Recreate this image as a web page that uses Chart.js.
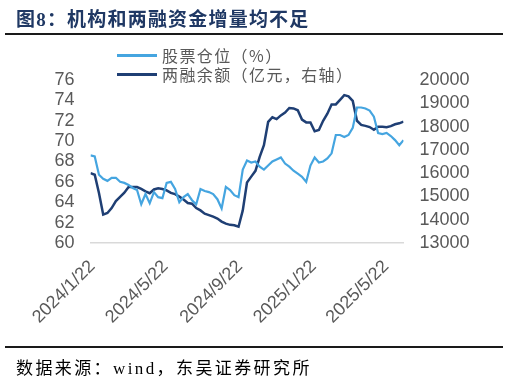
<!DOCTYPE html>
<html>
<head>
<meta charset="utf-8">
<script src="https://cdn.jsdelivr.net/npm/chart.js@4.4.1/dist/chart.umd.min.js"></script>
<style>
  html, body { margin: 0; padding: 0; background: #fff; }
  #wrap { position: relative; width: 509px; height: 381px; overflow: hidden; }
  #c { position: absolute; left: 0; top: 0; }
  .title { position: absolute; left: 16px; top: 4px; font: bold 19px "Liberation Serif", "Noto Sans CJK SC", serif; color: #1F3864; letter-spacing: 1.2px; white-space: nowrap; }
  .rule { position: absolute; left: 5px; width: 498px; height: 2px; background: #1a1a1a; }
  .src { position: absolute; left: 16px; top: 354px; font: 17px "Liberation Serif", "Noto Sans CJK SC", serif; color: #000; letter-spacing: 2.4px; white-space: nowrap; }
  .lg { position: absolute; left: 117px; height: 20px; display: flex; align-items: center; white-space: nowrap; }
  .lg i { display: inline-block; width: 40px; height: 3px; margin-right: 5px; }
  .lg span { font: 16px "Noto Sans CJK SC", sans-serif; color: #595959; letter-spacing: 1.4px; }
</style>
</head>
<body>
<div id="wrap">
  <canvas id="c" width="509" height="381"></canvas>
  <div class="title">图8：机构和两融资金增量均不足</div>
  <div class="rule" style="top:33px"></div>
  <div class="lg" style="top:45px"><i style="background:#45A5E0"></i><span id="lg0"></span></div>
  <div class="lg" style="top:64px"><i style="background:#1F3F74"></i><span id="lg1"></span></div>
  <div class="rule" style="top:346px"></div>
  <div class="src">数据来源：wind，东吴证券研究所</div>
</div>
<script>
// ---- data ----
const seriesNames = ['股票仓位（%）', '两融余额（亿元，右轴）'];
const dates = [
  '2024-01-19','2024-01-26','2024-02-02','2024-02-09','2024-02-16','2024-02-23','2024-03-01','2024-03-08','2024-03-15','2024-03-22',
  '2024-03-29','2024-04-05','2024-04-12','2024-04-19','2024-04-26','2024-05-03','2024-05-10','2024-05-17','2024-05-24','2024-05-31',
  '2024-06-07','2024-06-14','2024-06-21','2024-06-28','2024-07-05','2024-07-12','2024-07-19','2024-07-26','2024-08-02','2024-08-09',
  '2024-08-16','2024-08-23','2024-08-30','2024-09-06','2024-09-13','2024-09-20','2024-09-27','2024-10-04','2024-10-11','2024-10-18',
  '2024-10-25','2024-11-01','2024-11-08','2024-11-15','2024-11-22','2024-11-29','2024-12-06','2024-12-13','2024-12-20','2024-12-27',
  '2025-01-03','2025-01-10','2025-01-17','2025-01-24','2025-01-31','2025-02-07','2025-02-14','2025-02-21','2025-02-28','2025-03-07',
  '2025-03-14','2025-03-21','2025-03-28','2025-04-04','2025-04-11','2025-04-18','2025-04-25','2025-05-02','2025-05-09','2025-05-16',
  '2025-05-23','2025-05-30','2025-06-06','2025-06-13','2025-06-20'
];
const stockPosition = [
  68.6,68.5,66.7,66.3,66.1,66.4,66.4,66.0,65.9,65.7,
  65.4,65.2,63.8,64.8,63.9,65.0,64.5,64.4,65.9,66.0,
  65.3,64.0,64.5,64.8,64.2,63.8,65.3,65.1,65.0,64.8,
  64.3,63.4,65.5,65.2,64.7,64.5,67.2,68.1,67.9,68.0,
  67.5,67.2,67.6,68.0,68.2,68.4,67.8,67.5,67.1,66.8,
  66.5,66.0,67.6,68.4,67.9,68.0,68.3,68.8,70.6,70.6,
  70.4,70.6,71.3,73.3,73.3,73.2,73.0,72.4,70.8,70.7,
  70.8,70.5,70.1,69.6,70.1
];
const marginBalance = [
  16000,15930,15150,14220,14290,14500,14800,14980,15160,15400,
  15400,15400,15320,15220,15140,15300,15350,15320,15260,15150,
  15100,14990,14870,14720,14690,14500,14400,14260,14200,14130,
  14050,13920,13830,13780,13760,13700,14400,15600,15850,16100,
  16700,17200,18200,18400,18320,18480,18600,18800,18780,18700,
  18300,18180,18180,17800,17850,18250,18550,18950,18950,19150,
  19350,19300,19100,18250,18070,18030,17980,17860,17990,17990,
  17970,18020,18100,18140,18210
];
const xTickDates = ['2024-01-22','2024-05-22','2024-09-22','2025-01-22','2025-05-22'];
const xTickLabels = ['2024/1/22','2024/5/22','2024/9/22','2025/1/22','2025/5/22'];
const leftTicks = [60,62,64,66,68,70,72,74,76];
const rightTicks = [13000,14000,15000,16000,17000,18000,19000,20000];

// ---- helpers ----
const DAY = 86400000;
const base = Date.UTC(2024,0,22);
const toDay = s => { const [y,m,d] = s.split('-').map(Number); return Math.round((Date.UTC(y,m-1,d) - base)/DAY); };
const xs = dates.map(toDay);
const tickDays = xTickDates.map(toDay);

document.getElementById('lg0').textContent = seriesNames[0];
document.getElementById('lg1').textContent = seriesNames[1];

const tickFont = { family: '"Liberation Sans", Arial, sans-serif', size: 18 };
const tickColor = '#595959';

new Chart(document.getElementById('c'), {
  type: 'line',
  data: {
    datasets: [
      { label: seriesNames[0], data: xs.map((x,i)=>({x, y: stockPosition[i]})), yAxisID: 'yL',
        borderColor: '#45A5E0', borderWidth: 2.2, pointRadius: 0, tension: 0 },
      { label: seriesNames[1], data: xs.map((x,i)=>({x, y: marginBalance[i]})), yAxisID: 'yR',
        borderColor: '#1F3F74', borderWidth: 2.5, pointRadius: 0, tension: 0 }
    ]
  },
  options: {
    responsive: false,
    animation: false,
    layout: { padding: { top: 80, left: 0, right: 0, bottom: 0 } },
    plugins: { legend: { display: false }, tooltip: { enabled: false } },
    scales: {
      x: {
        type: 'linear',
        min: xs[0], max: xs[xs.length-1],
        afterBuildTicks: s => { s.ticks = tickDays.map(v => ({ value: v })); },
        afterFit: s => { s.height = 138; },
        grid: { display: false, drawTicks: false },
        border: { display: true, color: '#d9d9d9', width: 1.5 },
        ticks: {
          autoSkip: false, maxRotation: 45, minRotation: 45, padding: 13,
          font: tickFont, color: tickColor,
          callback: v => { const i = tickDays.indexOf(v); return i >= 0 ? xTickLabels[i] : ''; }
        }
      },
      yL: {
        position: 'left', min: 60, max: 76,
        afterBuildTicks: s => { s.ticks = leftTicks.map(v => ({ value: v })); },
        afterFit: s => { s.width = 90.5; },
        grid: { display: false, drawTicks: false },
        border: { display: false },
        ticks: { autoSkip: false, padding: 16, font: tickFont, color: tickColor }
      },
      yR: {
        position: 'right', min: 13000, max: 20000,
        afterBuildTicks: s => { s.ticks = rightTicks.map(v => ({ value: v })); },
        afterFit: s => { s.width = 105.5; },
        grid: { display: false, drawTicks: false },
        border: { display: false },
        ticks: { autoSkip: false, padding: 16, font: tickFont, color: tickColor, callback: v => String(v) }
      }
    }
  }
});
</script>
</body>
</html>
